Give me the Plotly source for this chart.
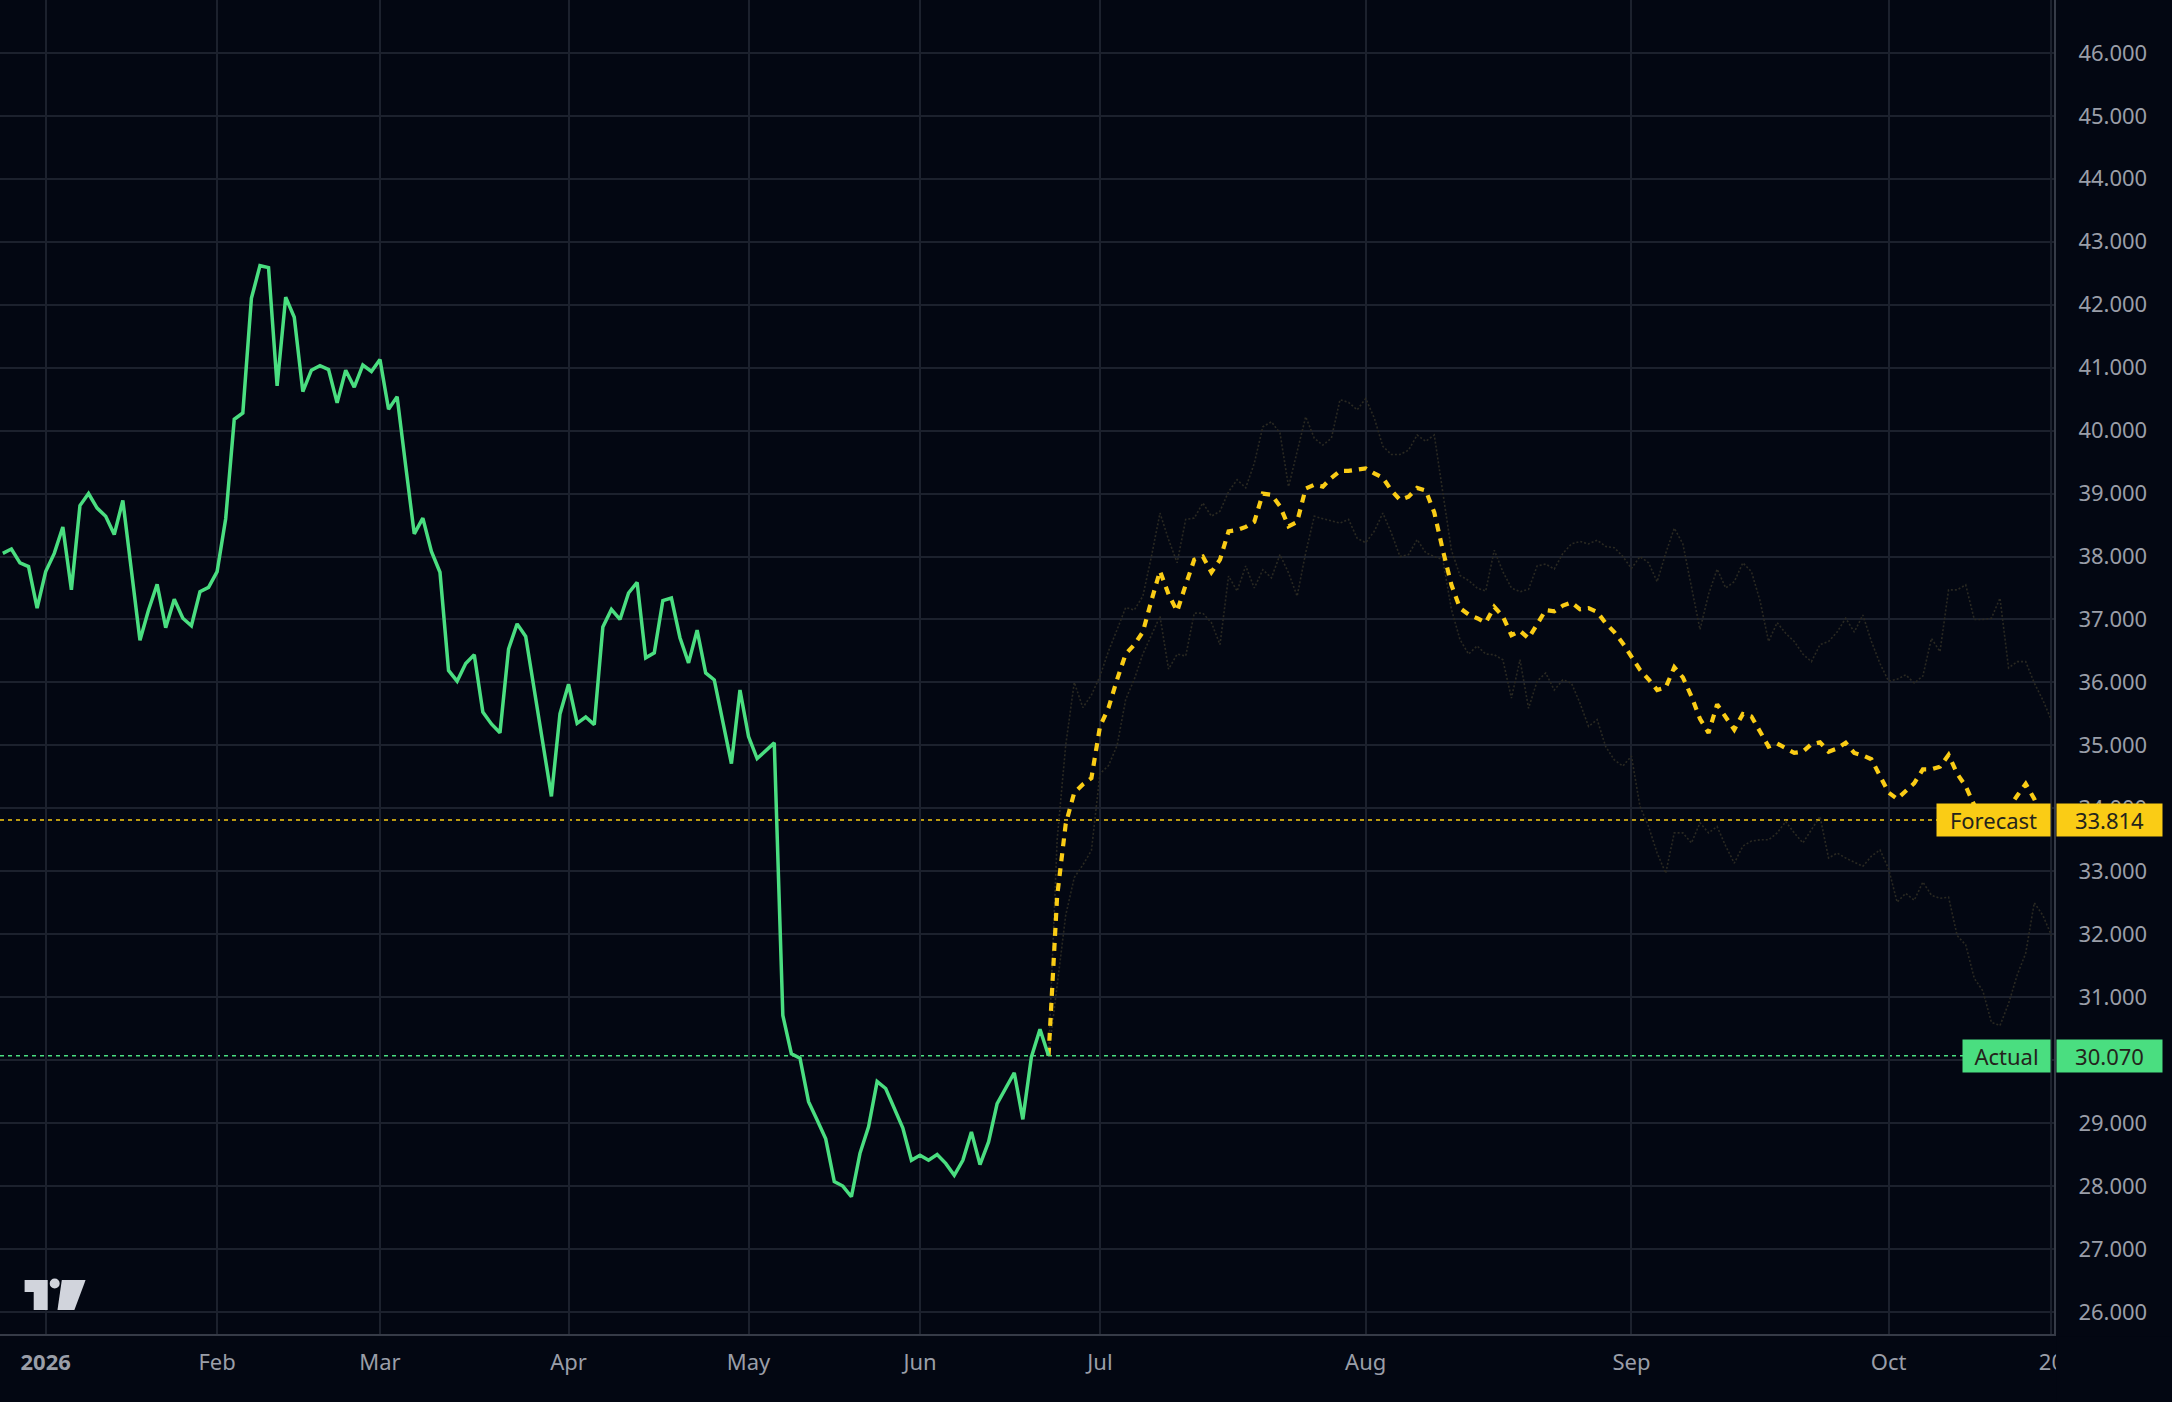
import plotly.graph_objects as go

# bar index axis (trading days before the forecast, calendar days after it)
month_ticks = [0, 20, 39, 61, 82, 102, 123, 154, 185, 215, 234]
month_labels = ["<b>2026</b>", "Feb", "Mar", "Apr", "May", "Jun",
                "Jul", "Aug", "Sep", "Oct", "20"]

actual_start = -5
actual = [
    38.05, 38.12, 37.90, 37.84, 37.18,
    37.76, 38.05, 38.47, 37.47, 38.81, 39.00, 38.77, 38.64, 38.35, 38.89,
    37.80, 36.67, 37.15, 37.56, 36.87, 37.32, 37.02, 36.90, 37.44, 37.51,
    37.76, 38.60, 40.18, 40.28, 42.10, 42.62, 42.59, 40.71, 42.12, 41.80,
    40.62, 40.96, 41.03, 40.97, 40.44, 40.96, 40.69, 41.04, 40.94, 41.13,
    40.34, 40.54, 39.44, 38.36, 38.61, 38.08, 37.75, 36.19, 36.02, 36.30,
    36.44, 35.53, 35.34, 35.20, 36.53, 36.93, 36.73, 35.87, 35.03, 34.19,
    35.50, 35.97, 35.35, 35.45, 35.33, 36.88, 37.16, 37.00, 37.42, 37.59,
    36.39, 36.47, 37.30, 37.34, 36.71, 36.31, 36.83, 36.15, 36.04, 35.40,
    34.71, 35.88, 35.14, 34.79, 34.92, 35.04, 30.71, 30.10, 30.03, 29.34,
    29.05, 28.75, 28.07, 28.00, 27.83, 28.52, 28.94, 29.66, 29.55, 29.23,
    28.92, 28.41, 28.49, 28.41, 28.50, 28.36, 28.17, 28.41, 28.86, 28.34,
    28.70, 29.31, 29.56, 29.80, 29.06, 30.05, 30.49, 30.07,
]

forecast_start = 117
forecast = [
    30.07, 32.60, 33.75, 34.25, 34.38, 34.48, 35.30, 35.60, 36.05, 36.45,
    36.60, 36.80, 37.30, 37.77, 37.40, 37.13, 37.55, 37.95, 38.00, 37.75,
    37.95, 38.40, 38.42, 38.47, 38.55, 39.00, 38.98, 38.80, 38.48, 38.55,
    39.08, 39.14, 39.11, 39.25, 39.36, 39.36, 39.38, 39.40, 39.32, 39.25,
    39.05, 38.90, 38.95, 39.09, 39.05, 38.70, 38.10, 37.55, 37.18, 37.08,
    37.02, 36.95, 37.20, 37.05, 36.75, 36.82, 36.70, 36.94, 37.15, 37.13,
    37.22, 37.27, 37.16, 37.18, 37.12, 36.94, 36.80, 36.62, 36.40, 36.20,
    36.05, 35.88, 35.92, 36.24, 36.08, 35.78, 35.42, 35.20, 35.65, 35.45,
    35.25, 35.50, 35.46, 35.22, 34.98, 35.03, 34.95, 34.88, 34.90, 35.02,
    35.05, 34.90, 34.95, 35.04, 34.88, 34.84, 34.78, 34.50, 34.25, 34.15,
    34.28, 34.40, 34.62, 34.62, 34.66, 34.85, 34.55, 34.35, 34.05, 33.85,
    33.80, 33.90, 34.00, 34.20, 34.39, 34.15, 33.814,
]

upper = [
    30.07, 33.50, 35.00, 36.00, 35.60, 35.80, 36.10, 36.50, 36.84, 37.19,
    37.15, 37.37, 38.00, 38.69, 38.27, 37.90, 38.59, 38.61, 38.85, 38.64,
    38.72, 39.03, 39.22, 39.09, 39.48, 40.06, 40.14, 39.96, 39.11, 39.69,
    40.22, 39.88, 39.77, 39.88, 40.49, 40.45, 40.33, 40.51, 40.20, 39.75,
    39.62, 39.62, 39.69, 39.93, 39.83, 39.93, 39.00, 38.10, 37.70, 37.62,
    37.50, 37.45, 38.10, 37.76, 37.50, 37.44, 37.48, 37.85, 37.88, 37.80,
    38.05, 38.20, 38.24, 38.20, 38.26, 38.16, 38.14, 38.00, 37.81, 38.00,
    37.90, 37.60, 38.05, 38.45, 38.20, 37.50, 36.84, 37.40, 37.80, 37.50,
    37.60, 37.90, 37.76, 37.30, 36.65, 36.95, 36.78, 36.65, 36.45, 36.33,
    36.60, 36.65, 36.80, 37.02, 36.80, 37.07, 36.65, 36.30, 36.02, 36.05,
    36.12, 35.99, 36.10, 36.70, 36.49, 37.47, 37.47, 37.55, 37.00, 37.00,
    37.02, 37.34, 36.23, 36.33, 36.33, 35.99, 35.72, 35.40,
]

lower = [
    30.07, 31.20, 32.30, 32.90, 33.10, 33.33, 34.55, 34.68, 35.00, 35.73,
    36.05, 36.45, 36.74, 37.05, 36.21, 36.45, 36.42, 37.10, 37.10, 36.95,
    36.60, 37.69, 37.45, 37.85, 37.50, 37.79, 37.66, 38.03, 37.74, 37.37,
    38.06, 38.64, 38.60, 38.56, 38.53, 38.59, 38.29, 38.22, 38.40, 38.69,
    38.37, 38.00, 38.03, 38.27, 38.06, 38.00, 37.95, 37.16, 36.68, 36.45,
    36.58, 36.45, 36.44, 36.36, 35.75, 36.36, 35.59, 36.02, 36.15, 35.88,
    36.04, 35.99, 35.67, 35.30, 35.41, 34.98, 34.77, 34.67, 34.83, 34.03,
    33.71, 33.29, 32.97, 33.61, 33.61, 33.45, 33.77, 33.61, 33.71, 33.40,
    33.13, 33.40, 33.48, 33.50, 33.50, 33.61, 33.79, 33.61, 33.45, 33.66,
    33.87, 33.21, 33.29, 33.21, 33.15, 33.08, 33.24, 33.34, 33.04, 32.51,
    32.65, 32.54, 32.83, 32.62, 32.57, 32.59, 31.98, 31.83, 31.30, 31.10,
    30.60, 30.55, 30.90, 31.35, 31.70, 32.50, 32.30, 31.98,
]

last_forecast = 33.814
last_actual = 30.070

BG = "#030712"
GRID = "#1c212d"
TEXT = "#9a9ea8"
GREEN = "#4ade80"
YELLOW = "#facc15"
BAND = "#2a2922"
LABEL_TEXT = "#24241c"

W, H = 2172, 1402
M_R, M_B = 118, 68
PW, PH = W - M_R, H - M_B


def px(x, y):
    # pixel inside the plot area -> paper coords
    return x / PW, 1 - y / PH


x_actual = list(range(actual_start, actual_start + len(actual)))
x_forecast = list(range(forecast_start, forecast_start + len(forecast)))
x_band = list(range(forecast_start, forecast_start + len(upper)))

fig = go.Figure()
for band in (upper, lower):
    fig.add_trace(go.Scatter(
        x=x_band, y=band, mode="lines", hoverinfo="skip",
        line=dict(color=BAND, width=1.6, dash="2px,2px"),
    ))
fig.add_trace(go.Scatter(
    x=x_forecast, y=forecast, mode="lines", name="Forecast",
    line=dict(color=YELLOW, width=4.2, dash="8px,7px"),
))
fig.add_trace(go.Scatter(
    x=x_actual, y=actual, mode="lines", name="Actual",
    line=dict(color=GREEN, width=3.5),
))

for val, col in ((last_forecast, YELLOW), (last_actual, GREEN)):
    fig.add_shape(type="line", xref="paper", x0=0, x1=1, yref="y", y0=val, y1=val,
                  line=dict(color=col, width=1.6, dash="4px,4px"), layer="below")

# price labels on the right
for name, val, col, w in (("Forecast", last_forecast, YELLOW, 113),
                          ("Actual", last_actual, GREEN, 87)):
    fig.add_annotation(xref="paper", x=1, yref="y", y=val, xanchor="right", xshift=-3,
                       text=name, showarrow=False, bgcolor=col, width=w, height=32,
                       borderpad=0, font=dict(color=LABEL_TEXT, size=22))
    fig.add_annotation(xref="paper", x=1, yref="y", y=val, xanchor="left", xshift=2,
                       text=f"{val:.3f}", showarrow=False, bgcolor=col, width=105, height=32,
                       borderpad=0, font=dict(color=LABEL_TEXT, size=22))

# hide the part of the last date label that runs under the price scale
fig.add_shape(type="rect", xref="paper", yref="paper", x0=1.001, x1=1.06, y0=-0.06, y1=-0.002,
              fillcolor=BG, line=dict(width=0), layer="above")

# TradingView mark
logo = "#d1d4dc"
for pts in ([(24.6, 1280), (47.7, 1280), (47.7, 1310), (33.7, 1310), (33.7, 1292), (24.6, 1292)],
            [(61.8, 1280), (85.6, 1280), (74.4, 1310), (57.5, 1310)]):
    path = "M " + " L ".join(f"{px(x, y)[0]:.5f},{px(x, y)[1]:.5f}" for x, y in pts) + " Z"
    fig.add_shape(type="path", xref="paper", yref="paper", path=path,
                  fillcolor=logo, line=dict(width=0))
cx0, cy0 = px(49.7, 1278.5)
cx1, cy1 = px(59.7, 1288.5)
fig.add_shape(type="circle", xref="paper", yref="paper", x0=cx0, x1=cx1, y0=cy1, y1=cy0,
              fillcolor=logo, line=dict(width=0))

fig.update_layout(
    width=W, height=H,
    margin=dict(l=0, r=M_R, t=0, b=M_B),
    paper_bgcolor=BG, plot_bgcolor=BG,
    showlegend=False,
    font=dict(family="Noto Sans, Open Sans, sans-serif", color=TEXT, size=22),
    xaxis=dict(
        range=[-5.33, 234.3], tickvals=month_ticks, ticktext=month_labels,
        showgrid=True, gridcolor=GRID, gridwidth=1.5, zeroline=False,
        showline=True, linecolor="#363b47", linewidth=2,
        ticks="outside", ticklen=8, tickcolor="rgba(0,0,0,0)",
        tickfont=dict(size=22, color=TEXT),
    ),
    yaxis=dict(
        range=[25.65, 46.84], side="right", dtick=1, tick0=26, tickformat=".3f",
        showgrid=True, gridcolor=GRID, gridwidth=1.5, zeroline=False,
        showline=True, linecolor="#363b47", linewidth=2,
        ticks="outside", ticklen=18, tickcolor="rgba(0,0,0,0)",
        tickfont=dict(size=22, color=TEXT),
    ),
)

fig.write_html("out.html", config={"displayModeBar": False},
               post_script="document.body.style.margin='0px';"
                           "document.body.style.background='#030712';")
